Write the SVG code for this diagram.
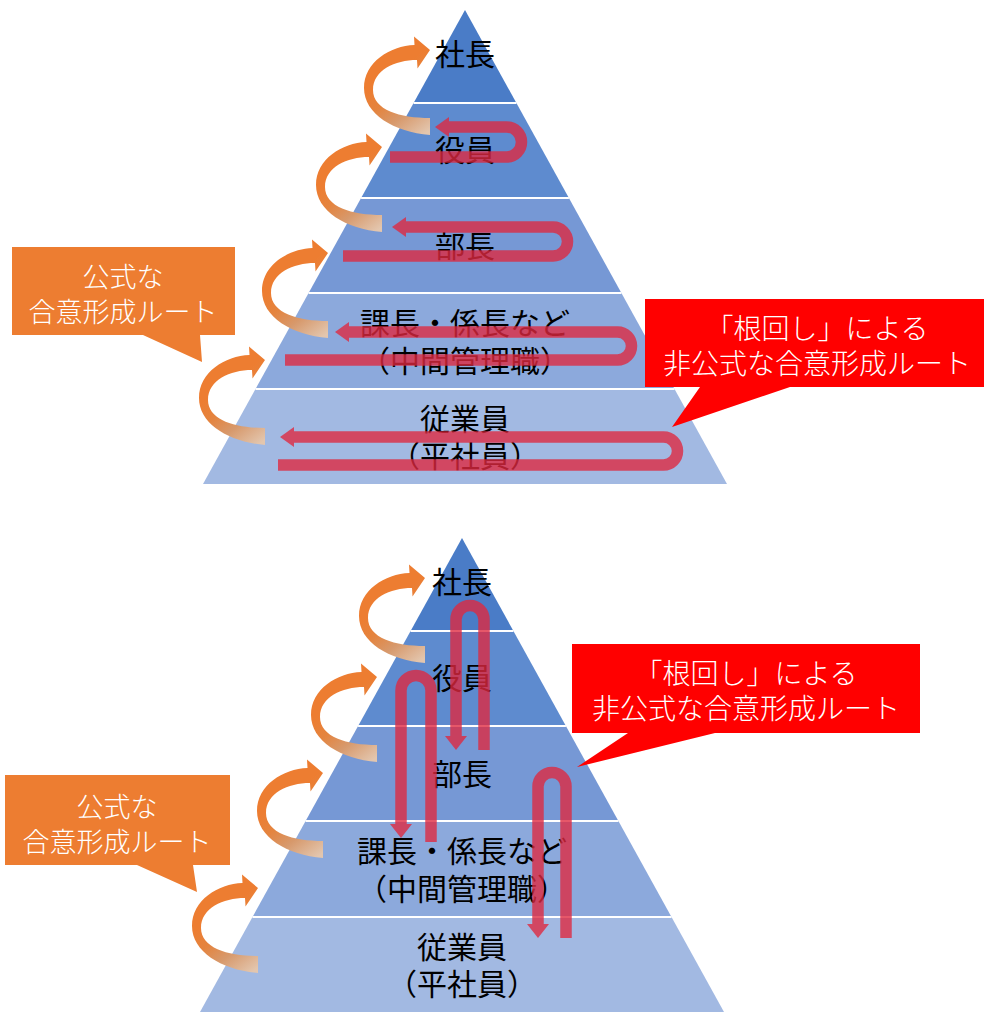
<svg xmlns="http://www.w3.org/2000/svg" width="984" height="1012" viewBox="0 0 984 1012">
<defs>
<style>
.b1{fill:#4A7CC7}.b2{fill:#5E8BCF}.b3{fill:#7698D5}.b4{fill:#8CA9DC}.b5{fill:#A2B9E2}
.sep{stroke:#FFFFFF;stroke-width:2;fill:none}
.lbl{font-family:"Noto Sans CJK JP","Noto Sans",sans-serif;font-size:30px;fill:#000000;text-anchor:middle}
.co{font-family:"Noto Sans CJK JP","Noto Sans",sans-serif;font-size:27px;font-weight:300;fill:#FFFFFF;text-anchor:middle}
.cr{font-family:"Noto Sans CJK JP","Noto Sans",sans-serif;font-size:28px;font-weight:300;fill:#FFFFFF;text-anchor:middle}
.orange{fill:#ED7D31}
.red{fill:#FF0000}
.ru{fill:none;stroke:#E0283F;stroke-width:11.5;stroke-linecap:butt}
.rh{fill:#E0283F}
</style>
<linearGradient id="rib" gradientUnits="userSpaceOnUse" x1="-40" y1="25" x2="0" y2="80">
<stop offset="0" stop-color="#ED7D31"/>
<stop offset="0.3" stop-color="#E4843F"/>
<stop offset="0.6" stop-color="#D7996C"/>
<stop offset="1" stop-color="#E3C6AE"/>
</linearGradient>
<path id="curl" fill="url(#rib)" d="M0 0 L-16 -13.5 L-15.5 -5 C-40 -4 -66 12 -66 38 C-66 64 -36 82 0 85 L0 68 C-30 68 -57 60 -57 40 C-57 20 -35 10 -13 10 L-12.5 18.5 Z"/>
<g id="pyr">
<polygon class="b1" points="465,10 516.4,103 413.6,103"/>
<polygon class="b2" points="413.6,103 516.4,103 568.9,198 361.1,198"/>
<polygon class="b3" points="361.1,198 568.9,198 621.4,293 308.6,293"/>
<polygon class="b4" points="308.6,293 621.4,293 674.5,389 255.5,389"/>
<polygon class="b5" points="255.5,389 674.5,389 727,484 203,484"/>
<path class="sep" d="M413.6 103H516.4M361.1 198H568.9M308.6 293H621.4M255.5 389H674.5"/>
</g>
</defs>

<!-- Top pyramid -->
<g id="top-pyramid">
<use href="#pyr"/>
</g>
<g id="top-tier-president"><text class="lbl" x="465" y="64.5">社長</text></g>
<g id="top-tier-executive"><text class="lbl" x="465" y="160.5">役員</text></g>
<g id="top-tier-manager"><text class="lbl" x="465" y="256.5">部長</text></g>
<g id="top-tier-middle"><text class="lbl" x="465" y="333.5">課長・係長など</text><text class="lbl" x="465" y="371.5">（中間管理職）</text></g>
<g id="top-tier-staff"><text class="lbl" x="465" y="429.5">従業員</text><text class="lbl" x="465" y="466.5">（平社員）</text></g>

<!-- Bottom pyramid -->
<g id="bottom-pyramid">
<use href="#pyr" transform="translate(-3,528)"/>
</g>
<g id="bottom-tier-president"><text class="lbl" x="462" y="592.5">社長</text></g>
<g id="bottom-tier-executive"><text class="lbl" x="462" y="688.5">役員</text></g>
<g id="bottom-tier-manager"><text class="lbl" x="462" y="784.5">部長</text></g>
<g id="bottom-tier-middle"><text class="lbl" x="462" y="861.5">課長・係長など</text><text class="lbl" x="462" y="899.5">（中間管理職）</text></g>
<g id="bottom-tier-staff"><text class="lbl" x="462" y="957.5">従業員</text><text class="lbl" x="462" y="994.5">（平社員）</text></g>

<g id="connectors">
<!-- informal route, top pyramid -->
<g opacity="0.78">
<path class="ru" d="M390 157 H506.5 A15 15 0 0 0 506.5 127 H447"/>
<polygon class="rh" points="435,127 449,117 449,137"/>
<path class="ru" d="M343 256 H553 A14.5 14.5 0 0 0 553 227 H404"/>
<polygon class="rh" points="392,227 406,217 406,237"/>
<path class="ru" d="M285 360 H617.5 A14 14 0 0 0 617.5 332 H347"/>
<polygon class="rh" points="335,332 349,322 349,342"/>
<path class="ru" d="M278 465 H663.5 A14 14 0 0 0 663.5 437 H292"/>
<polygon class="rh" points="280,437 294,427 294,447"/>
</g>
<!-- informal route, bottom pyramid -->
<g opacity="0.78">
<path class="ru" d="M484 750 V619.5 A14 14 0 0 0 456 619.5 V738"/>
<polygon class="rh" points="456,750 445,736 467,736"/>
<path class="ru" d="M431 842 V690.5 A15 15 0 0 0 401 690.5 V826"/>
<polygon class="rh" points="401,838 390,824 412,824"/>
<path class="ru" d="M566 938 V786.5 A14 14 0 0 0 538 786.5 V926"/>
<polygon class="rh" points="538,938 527,924 549,924"/>
</g>
<!-- formal route curls -->
<use href="#curl" transform="translate(430,50)"/>
<use href="#curl" transform="translate(382,147)"/>
<use href="#curl" transform="translate(328,253)"/>
<use href="#curl" transform="translate(265,360)"/>
<use href="#curl" transform="translate(425,578)"/>
<use href="#curl" transform="translate(377,677)"/>
<use href="#curl" transform="translate(323,773)"/>
<use href="#curl" transform="translate(258,888)"/>
</g>

<g id="callout-formal-top">
<path class="orange" d="M12 247 H235 V335 H200 L202 362 L143 335 H12 Z"/>
<text class="co" x="123" y="287">公式な</text>
<text class="co" x="123" y="322">合意形成ルート</text>
</g>
<g id="callout-informal-top">
<path class="red" d="M645 299 H990 V387 H790 L672 427 L700 387 H645 Z"/>
<text class="cr" x="817" y="339">「根回し」による</text>
<text class="cr" x="817" y="374">非公式な合意形成ルート</text>
</g>
<g id="callout-formal-bottom">
<path class="orange" d="M5 775 H230 V865 H193 L197 892 L137 865 H5 Z"/>
<text class="co" x="117" y="817">公式な</text>
<text class="co" x="117" y="852">合意形成ルート</text>
</g>
<g id="callout-informal-bottom">
<path class="red" d="M572 644 H920 V733 H715 L577 767 L628 733 H572 Z"/>
<text class="cr" x="746" y="684">「根回し」による</text>
<text class="cr" x="746" y="719">非公式な合意形成ルート</text>
</g>
</svg>
